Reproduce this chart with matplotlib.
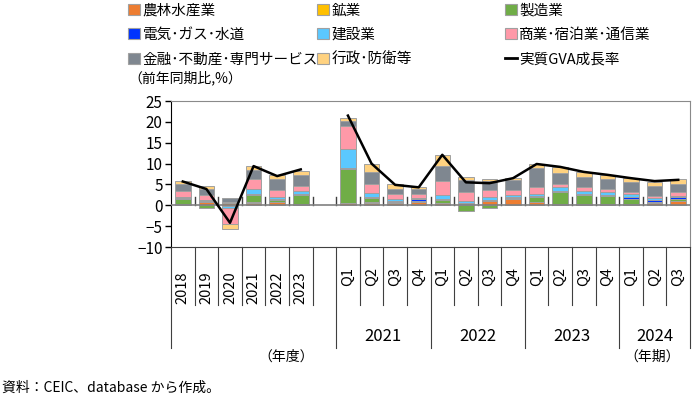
import numpy as np
import matplotlib
matplotlib.use('Agg')
from matplotlib import pyplot as plt
from matplotlib.patches import Patch
from matplotlib.lines import Line2D

plt.rcParams['font.family'] = ['Noto Sans CJK JP', 'DejaVu Sans']

# annual (fiscal year) part and quarterly part
years = ['2018', '2019', '2020', '2021', '2022', '2023']
quarters = ['Q1', 'Q2', 'Q3', 'Q4'] * 3 + ['Q1', 'Q2', 'Q3']
q_groups = ['2021', '2022', '2023', '2024']

series = ['農林水産業', '鉱業', '製造業', '電気･ガス･水道', '建設業',
          '商業･宿泊業･通信業', '金融･不動産･専門サービス', '行政･防衛等']
colors = ['#ED7D31', '#FFC000', '#70AD47', '#0033FF', '#5BC8FF',
          '#FF99A8', '#7F8790', '#FFD280']

# contributions, annual
agri_y    = [0.3, 0.8, 0.5, 0.6, 0.8, 0.3]
mining_y  = [0.1, 0.1, 0.1, 0.1, 0.1, 0.1]
manu_y    = [1.1, -0.6, 0.3, 1.7, 0.4, 2.1]
elec_y    = [0.2, 0.1, -0.1, 0.2, 0.2, 0.2]
constr_y  = [0.4, 0.3, -0.5, 1.4, 0.6, 0.7]
comm_y    = [1.3, 1.1, -4.0, 2.4, 1.6, 1.2]
fin_y     = [1.7, 1.6, 0.8, 2.0, 2.7, 2.6]
gov_y     = [0.7, 0.6, -1.0, 0.9, 0.8, 1.1]
gva_y     = [5.7, 3.9, -4.2, 9.4, 7.0, 8.6]

# contributions, quarterly (2021Q1 - 2024Q3)
agri_q   = [0.5, 0.6, 0.5, 0.7, 0.5, 0.4, 1.0, 1.4, 0.7, 0.3, 0.2, 0.1, 0.3, 0.5, 1.0]
mining_q = [0.1, 0.1, 0.1, 0.1, 0.1, 0.1, 0.1, 0.1, 0.1, 0.1, 0.1, 0.1, 0.1, 0.1, 0.1]
manu_q   = [8.0, 1.0, 0.3, 0.3, 0.6, -1.4, -0.7, 0.3, 1.1, 2.8, 2.1, 2.0, 1.2, 0.3, 0.5]
elec_q   = [0.3, 0.2, 0.2, 0.3, 0.2, 0.1, 0.2, 0.2, 0.3, 0.3, 0.3, 0.3, 0.4, 0.3, 0.3]
constr_q = [4.7, 1.0, 0.3, 0.4, 1.0, 0.5, 0.6, 0.5, 0.6, 0.9, 0.7, 0.6, 0.6, 0.5, 0.4]
comm_q   = [5.4, 2.3, 1.2, 1.0, 3.4, 2.0, 1.7, 1.2, 1.5, 0.8, 1.1, 0.8, 0.7, 0.6, 0.8]
fin_q    = [1.3, 2.7, 1.3, 1.0, 3.6, 3.0, 2.3, 2.3, 4.6, 2.6, 2.2, 2.3, 2.3, 2.4, 1.9]
gov_q    = [0.6, 1.9, 1.1, 0.6, 2.6, 0.6, 0.3, 0.5, 1.0, 1.4, 1.2, 1.0, 0.9, 1.0, 1.2]
gva_q    = [21.5, 10.0, 4.9, 4.3, 12.1, 5.5, 5.3, 6.5, 9.9, 9.2, 8.0, 7.3, 6.5, 5.8, 6.1]

ann = [agri_y, mining_y, manu_y, elec_y, constr_y, comm_y, fin_y, gov_y]
qtr = [agri_q, mining_q, manu_q, elec_q, constr_q, comm_q, fin_q, gov_q]

x_y = np.arange(len(years))
x_q = np.arange(len(quarters)) + len(years) + 1
x_all = np.concatenate([x_y, x_q])
n = len(x_all)

fig = plt.figure(figsize=(6.99, 3.97), dpi=100)
ax = fig.add_axes([171/699, 1-247/397, 519/699, 146/397])

pos_bottom = np.zeros(n)
neg_bottom = np.zeros(n)
for a, q, c in zip(ann, qtr, colors):
    v = np.array(a + q)
    bottom = np.where(v >= 0, pos_bottom, neg_bottom)
    ax.bar(x_all, v, 0.66, bottom=bottom, color=c, edgecolor='#a0a0a0',
           linewidth=0.7, zorder=2)
    pos_bottom += np.where(v >= 0, v, 0)
    neg_bottom += np.where(v < 0, v, 0)

ax.plot(x_y, gva_y, color='black', lw=1.8, zorder=4)
ax.plot(x_q, gva_q, color='black', lw=1.8, zorder=4)

# zero line with small tick marks between categories
ax.axhline(0, color='#808080', lw=1.2, zorder=3)
for b in np.arange(0.5, x_all[-1], 1.0):
    ax.plot([b, b], [0, 1.9], color='#404040', lw=1, zorder=1)

ax.set_xlim(-0.5, x_all[-1] + 0.5)
ax.set_ylim(-10, 25)
ax.set_yticks(np.arange(-10, 26, 5))
ax.tick_params(axis='y', labelsize=11, length=4, width=1, pad=2)
ax.set_xticks([])
for s in ['top', 'right']:
    ax.spines[s].set_color('#8a8a8a')
ax.spines['left'].set_color('black')
ax.spines['bottom'].set_color('#404040')

# category labels below axis
trans = ax.get_xaxis_transform()
for xi, lab in zip(x_y, years):
    ax.text(xi, -0.28, lab, rotation=90, ha='center', va='center',
            fontsize=10.5, transform=trans)
for xi, lab in zip(x_q, quarters):
    ax.text(xi, -0.20, lab, rotation=90, ha='center', va='center',
            fontsize=10.5, transform=trans)

long_b = [-0.5, 6.5, 10.5, 14.5, 18.5, 21.5]
for b in np.arange(-0.5, x_all[-1] + 1, 1.0):
    depth = -0.692 if b in long_b else -0.397
    ax.plot([b, b], [0, depth], color='#404040', lw=0.8, transform=trans, clip_on=False)

starts = [7, 11, 15, 19]
ends = [10, 14, 18, 21]
for g, s, e in zip(q_groups, starts, ends):
    ax.text((s + e) / 2, -0.616, g, ha='center', va='center', fontsize=12, transform=trans)

fig.text(286/699, 1-357/397, '（年度）', ha='center', va='center', fontsize=10)
fig.text(652/699, 1-357/397, '（年期）', ha='center', va='center', fontsize=10)
fig.text(2/699, 1-388/397, '資料：CEIC、database から作成。', ha='left', va='center', fontsize=10)
fig.text(128/699, 1-78/397, '（前年同期比,%）', ha='left', va='center', fontsize=10)

# legend, three columns placed by hand
handles = [Patch(facecolor=c, edgecolor='#a0a0a0', linewidth=0.8) for c in colors]
handles.append(Line2D([], [], color='black', lw=2))
labels = series + ['実質GVA成長率']
col_x = [122/699, 311/699, 499/699]
for k in range(3):
    idx = [k, k + 3, k + 6]
    fig.legend([handles[i] for i in idx], [labels[i] for i in idx],
               loc='upper left', bbox_to_anchor=(col_x[k], 1.006),
               frameon=False, fontsize=10.5, handlelength=0.8, handleheight=0.8,
               handletextpad=0.2, labelspacing=0.72, borderaxespad=0)

fig.savefig('out.png', dpi=100)
